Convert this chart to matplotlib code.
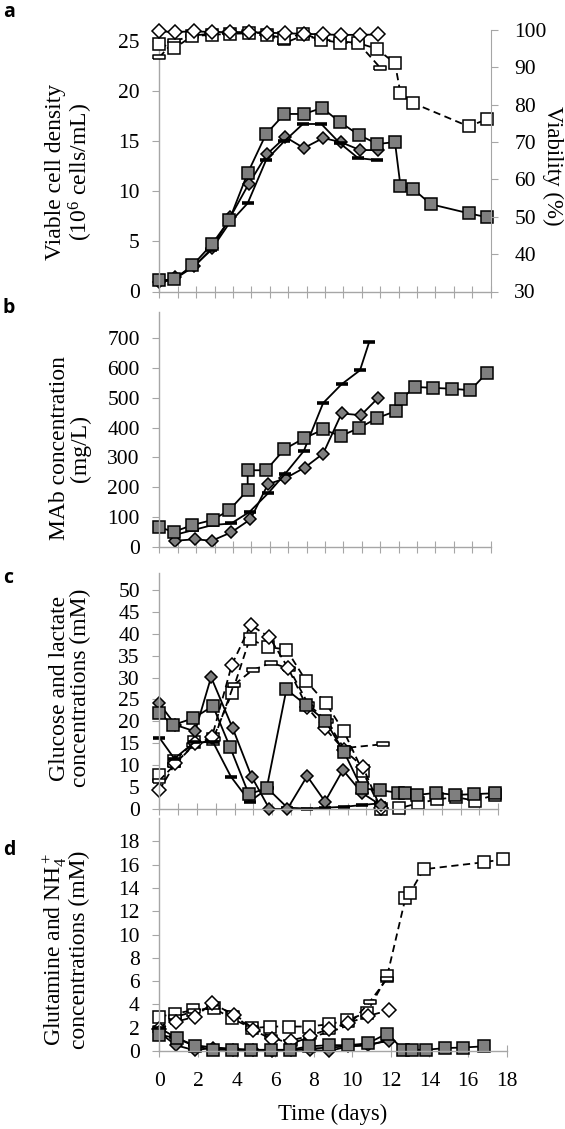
import matplotlib
matplotlib.use('Agg')
import matplotlib.pyplot as plt
from matplotlib.ticker import MultipleLocator

plt.rcParams['font.family'] = 'Liberation Serif'
plt.rcParams['mathtext.fontset'] = 'custom'
plt.rcParams['mathtext.rm'] = 'Liberation Serif'
plt.rcParams['mathtext.it'] = 'Liberation Serif:italic'

GRAY = '#7f7f7f'
AXIS_GRAY = '#a6a6a6'

# ---- panel a: viable cell density (1e6 cells/mL) and viability (%)
a_sq_days = [0, 0.8, 1.8, 2.85, 3.8, 4.8, 5.8, 6.8, 7.85, 8.85, 9.8, 10.85, 11.85, 12.8, 13.1, 13.8, 14.75, 16.8, 17.8]
a_sq_vcd = [1.1, 1.2, 2.6, 4.7, 7.1, 11.8, 15.7, 17.7, 17.7, 18.3, 16.9, 15.6, 14.7, 14.9, 10.5, 10.2, 8.7, 7.8, 7.4]
a_dm_days = [0, 0.85, 1.9, 2.85, 3.85, 4.85, 5.85, 6.85, 7.85, 8.9, 9.85, 10.9, 11.9]
a_dm_vcd = [0.9, 1.4, 2.5, 4.3, 7.4, 10.7, 13.7, 15.4, 14.3, 15.3, 14.9, 14.1, 14.1]
a_bar_days = [0, 0.8, 1.8, 2.8, 3.8, 4.8, 5.8, 6.8, 7.8, 8.8, 9.8, 10.8, 11.8]
a_bar_vcd = [0.9, 1.2, 2.4, 4.1, 6.8, 8.8, 13.1, 15.0, 16.7, 16.7, 14.8, 13.3, 13.1]

a_sq_vdays = [0, 0.8, 1.8, 2.85, 3.85, 4.85, 5.85, 6.8, 7.8, 8.8, 9.8, 10.8, 11.8, 12.8, 13.1, 13.8, 16.8, 17.8]
a_sq_viab = [96.3, 95.1, 98.4, 98.7, 99.0, 99.1, 98.7, 97.8, 99.0, 97.4, 96.6, 96.5, 95.0, 91.1, 83.1, 80.4, 74.2, 76.1]
a_dm_viab = [99.6, 99.5, 99.6, 99.5, 99.4, 99.4, 99.3, 99.1, 99.0, 98.8, 98.7, 98.7, 98.8]
a_bar_vdays = [0, 0.8, 1.8, 2.8, 3.8, 4.8, 5.8, 6.8, 7.8, 8.8, 9.8, 10.8, 12.0]
a_bar_viab = [92.7, 97.0, 98.5, 99.0, 99.2, 99.5, 99.0, 96.5, 98.5, 97.5, 97.0, 96.5, 89.9]

# ---- panel b: MAb concentration (mg/L)
b_sq_days = [0, 0.8, 1.8, 2.9, 3.8, 4.8, 4.8, 5.8, 6.8, 7.85, 8.9, 9.85, 10.85, 11.85, 12.85, 13.15, 13.9, 14.85, 15.9, 16.9, 17.8]
b_sq_mab = [65, 50, 73, 90, 123, 190, 257, 257, 328, 364, 394, 372, 399, 433, 456, 498, 537, 534, 531, 526, 585]
b_dm_days = [0.85, 1.95, 2.85, 3.9, 4.95, 5.9, 6.85, 7.9, 8.9, 9.9, 10.95, 11.9]
b_dm_mab = [20, 25, 20, 48, 92, 210, 230, 266, 313, 448, 442, 501]
b_bar_days = [0.8, 1.85, 2.9, 3.9, 4.9, 5.9, 6.85, 7.85, 8.9, 9.9, 10.9, 11.4]
b_bar_mab = [39, 56, 73, 78, 117, 179, 246, 322, 483, 546, 593, 688]

# ---- panel c: glucose (filled) and lactate (open), mM
c_sq_days = [0, 0.75, 1.8, 2.85, 3.75, 4.75, 5.7, 6.75, 7.8, 8.8, 9.8, 10.75, 11.7, 12.7, 13.05, 13.7, 14.7, 15.7, 16.7, 17.85]
c_sq_glc = [21.8, 19.2, 20.7, 23.5, 14.2, 3.4, 4.7, 27.3, 23.7, 20.2, 13.1, 4.7, 4.3, 3.7, 3.6, 3.2, 3.7, 3.2, 3.4, 3.6]
c_dm_days = [0, 0.85, 1.9, 2.75, 3.9, 4.9, 5.85, 6.8, 7.85, 8.8, 9.75, 10.75, 11.75]
c_dm_glc = [24.1, 19.2, 17.7, 30.1, 18.4, 7.4, 0.0, 0.0, 7.5, 1.7, 8.9, 3.7, 0.9]
c_bar_days = [0, 0.8, 1.85, 2.85, 3.8, 4.8, 5.75, 6.8, 7.85, 8.8, 9.8, 10.75, 11.7]
c_bar_glc = [16.3, 11.5, 15.2, 15.3, 7.4, 1.7, 4.7, 0.3, 0.1, 0.3, 0.5, 0.9, 1.3]

c_sq_ldays = [0, 0.8, 1.85, 2.85, 3.85, 4.8, 5.75, 6.75, 7.8, 8.85, 9.8, 10.8, 11.75, 12.75, 13.75, 14.75, 15.75, 16.75, 17.85]
c_sq_lac = [7.8, 11.0, 15.3, 16.0, 26.4, 38.8, 37.0, 36.4, 29.2, 24.1, 17.7, 8.6, 0.0, 0.2, 1.3, 2.2, 2.7, 1.9, 3.2]
c_dm_ldays = [0, 0.85, 1.9, 2.8, 3.85, 4.85, 5.85, 6.85, 7.85, 8.8, 9.8, 10.8, 11.75]
c_dm_lac = [4.3, 10.4, 15.0, 16.5, 32.9, 42.0, 39.2, 32.1, 23.2, 18.4, 13.5, 9.7, 0.2]
c_bar_ldays = [0, 0.8, 1.8, 2.9, 3.95, 4.95, 5.95, 6.9, 7.9, 8.9, 9.8, 11.9]
c_bar_lac = [6.5, 10.0, 14.5, 16.0, 28.3, 31.7, 33.4, 32.0, 24.0, 20.0, 13.9, 14.8]

# ---- panel d: glutamine (filled) and NH4+ (open), mM
d_sq_days = [0, 0.9, 1.85, 2.8, 3.75, 4.75, 5.8, 6.75, 7.75, 8.8, 9.8, 10.8, 11.8, 12.65, 13.1, 13.8, 14.8, 15.75, 16.8]
d_sq_gln = [1.4, 1.1, 0.4, 0.1, 0.1, 0.1, 0.1, 0.1, 0.4, 0.5, 0.5, 0.65, 1.5, 0.1, 0.1, 0.1, 0.25, 0.3, 0.4]
d_dm_days = [0, 0.85, 1.85, 2.8, 3.8, 4.85, 5.85, 6.8, 7.8, 8.8, 9.8, 10.8, 11.9]
d_dm_gln = [1.6, 0.5, 0.05, 0.3, 0.1, 0.1, 0.0, 0.1, 0.1, 0.0, 0.4, 0.5, 0.9]
d_bar_days = [0, 0.8, 1.8, 2.8, 3.8, 4.8, 5.8, 6.8, 7.8, 8.8, 9.8, 10.8, 11.8]
d_bar_gln = [2.0, 1.2, 0.5, 0.3, 0.2, 0.1, 0.1, 0.1, 0.2, 0.3, 0.4, 0.5, 0.9]

d_sq_ndays = [0, 0.8, 1.75, 2.85, 3.75, 4.8, 5.75, 6.7, 7.75, 8.8, 9.75, 10.75, 11.8, 12.75, 13.0, 13.7, 16.8, 17.8]
d_sq_nh4 = [2.95, 3.2, 3.5, 3.65, 2.8, 1.95, 2.1, 2.1, 2.1, 2.3, 2.65, 3.3, 6.4, 13.1, 13.6, 15.6, 16.2, 16.45]
d_dm_ndays = [0, 0.85, 1.85, 2.75, 3.85, 4.85, 5.85, 6.8, 7.8, 8.8, 9.8, 10.8, 11.9]
d_dm_nh4 = [1.9, 2.5, 2.95, 4.1, 3.1, 1.8, 1.0, 0.9, 1.3, 1.9, 2.4, 3.0, 3.5]
d_bar_ndays = [0, 0.8, 1.8, 2.8, 3.8, 4.8, 5.8, 6.8, 7.8, 8.8, 9.8, 10.9, 11.8]
d_bar_nh4 = [2.0, 2.9, 3.4, 3.8, 3.3, 2.0, 1.2, 0.6, 1.2, 1.6, 2.2, 4.2, 6.2]

HOLLOW_BAR = [(-1, -0.32), (1, -0.32), (1, 0.32), (-1, 0.32), (-1, -0.32)]
DASH = (0, (4, 2.5))


def draw(ax, days, vals, kind, filled, dashed=False):
    kw = dict(color='black', lw=1.3, clip_on=False, mec='black', mew=1.1,
              ls=DASH if dashed else '-')
    if kind == 'sq':
        kw.update(marker='s', ms=8, mfc=GRAY if filled else 'white')
    elif kind == 'dm':
        kw.update(marker='D', ms=6 if filled else 7.3, mfc=GRAY if filled else 'white')
    elif filled:
        kw.update(marker='_', ms=8.5, mew=2.6)
    else:
        kw.update(marker=HOLLOW_BAR, ms=8, mfc='white')
    ax.plot(days, vals, **kw)


def style(ax, ymax, ystep, xstep=1, xlabels=False):
    ax.set_xlim(0, 18)
    ax.set_ylim(0, ymax)
    ax.xaxis.set_major_locator(MultipleLocator(xstep))
    ax.yaxis.set_major_locator(MultipleLocator(ystep))
    for s in ('top', 'right'):
        ax.spines[s].set_visible(False)
    for s in ('left', 'bottom'):
        ax.spines[s].set_color(AXIS_GRAY)
        ax.spines[s].set_linewidth(1.0)
    ax.tick_params(axis='x', direction='inout', length=8, color=AXIS_GRAY,
                   labelsize=15.5, pad=11, labelbottom=xlabels)
    ax.tick_params(axis='y', direction='out', length=5, color=AXIS_GRAY,
                   labelsize=15.5, pad=9)


W, H = 565, 1129
fig = plt.figure(figsize=(W / 100, H / 100), dpi=100)


def axes_px(left, right, top, bottom):
    return fig.add_axes([left / W, 1 - bottom / H, (right - left) / W, (bottom - top) / H])


# panel a
ax_a = axes_px(159.3, 490.7, 30, 291.5)
ax_v = ax_a.twinx()
style(ax_a, 26.07, 5)
ax_a.set_yticks([0, 5, 10, 15, 20, 25])
ax_v.set_ylim(30, 100)
ax_v.yaxis.set_major_locator(MultipleLocator(10))
for s in ('top', 'left', 'bottom'):
    ax_v.spines[s].set_visible(False)
ax_v.spines['right'].set_color(AXIS_GRAY)
ax_v.tick_params(axis='y', direction='out', length=5, color=AXIS_GRAY, labelsize=15.5, pad=12)
draw(ax_a, a_dm_days, a_dm_vcd, 'dm', True)
draw(ax_a, a_bar_days, a_bar_vcd, 'bar', True)
draw(ax_a, a_sq_days, a_sq_vcd, 'sq', True)
draw(ax_v, a_bar_vdays, a_bar_viab, 'bar', False, dashed=True)
draw(ax_v, a_sq_vdays, a_sq_viab, 'sq', False, dashed=True)
draw(ax_v, a_dm_days, a_dm_viab, 'dm', False)

# panel b
ax_b = axes_px(159.3, 490.7, 311.7, 546.7)
style(ax_b, 790, 100)
draw(ax_b, b_dm_days, b_dm_mab, 'dm', True)
draw(ax_b, b_bar_days, b_bar_mab, 'bar', True)
draw(ax_b, b_sq_days, b_sq_mab, 'sq', True)

# panel c
ax_c = axes_px(159.3, 498.3, 573.3, 809)
style(ax_c, 53.8, 5)
draw(ax_c, c_sq_ldays, c_sq_lac, 'sq', False, dashed=True)
draw(ax_c, c_bar_ldays, c_bar_lac, 'bar', False, dashed=True)
draw(ax_c, c_dm_ldays, c_dm_lac, 'dm', False, dashed=True)
draw(ax_c, c_bar_days, c_bar_glc, 'bar', True)
draw(ax_c, c_dm_days, c_dm_glc, 'dm', True)
draw(ax_c, c_sq_days, c_sq_glc, 'sq', True)

# panel d
ax_d = axes_px(159.3, 506.7, 818, 1051)
style(ax_d, 20, 2, xstep=2, xlabels=True)
ax_d.set_yticks(range(0, 19, 2))
draw(ax_d, d_sq_ndays, d_sq_nh4, 'sq', False, dashed=True)
draw(ax_d, d_bar_ndays, d_bar_nh4, 'bar', False, dashed=True)
draw(ax_d, d_dm_ndays, d_dm_nh4, 'dm', False, dashed=True)
draw(ax_d, d_bar_days, d_bar_gln, 'bar', True)
draw(ax_d, d_dm_days, d_dm_gln, 'dm', True)
draw(ax_d, d_sq_days, d_sq_gln, 'sq', True)


def fig_text(x, y, s, **kw):
    fig.text(x / W, 1 - y / H, s, **kw)


lab = dict(rotation=90, ha='center', va='center', fontsize=17, linespacing=1.0)
fig_text(70, 172, 'Viable cell density\n(10$^6$ cells/mL)', **lab)
fig_text(70, 448, 'MAb concentration\n(mg/L)', **lab)
fig_text(70, 688, 'Glucose and lactate\nconcentrations (mM)', **lab)
fig_text(66, 950, 'Glutamine and NH$_4^+$\nconcentrations (mM)', **lab)
fig_text(553, 166, 'Viability (%)', rotation=270, ha='center', va='center', fontsize=16.5)
fig_text(333, 1114, 'Time (days)', ha='center', va='center', fontsize=16.3)

letter = dict(family='Open Sans', fontweight='bold', fontsize=14, ha='left', va='center')
fig_text(3, 12, 'a', **letter)
fig_text(3, 308, 'b', **letter)
fig_text(3, 578, 'c', **letter)
fig_text(3, 850, 'd', **letter)

fig.savefig('out.png', dpi=100)
